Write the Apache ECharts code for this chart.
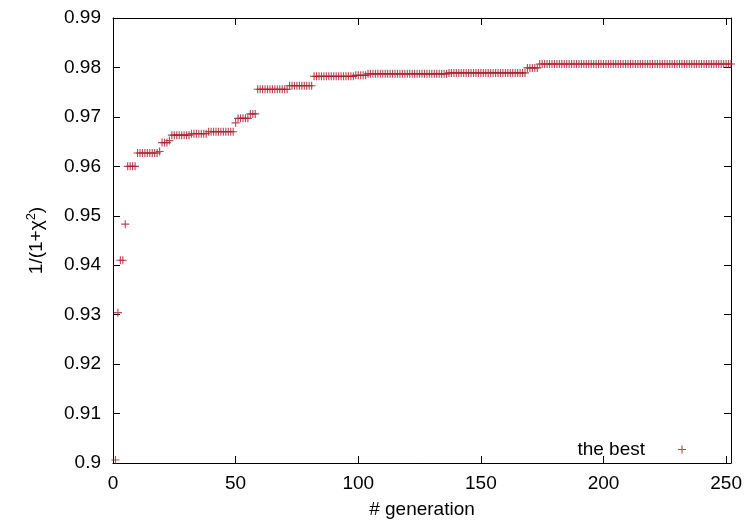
<!DOCTYPE html>
<html>
<head>
<meta charset="utf-8">
<script src="https://cdn.jsdelivr.net/npm/echarts@6/dist/echarts.min.js"></script>
<style>
    html, body { margin: 0; padding: 0; background: #fff; }
    #chart { width: 746px; height: 528px; }
</style>
</head>
<body>
<div id="chart"></div>
<script>
// best fitness per generation, read as plateaus: first generation of each level and its value
var runStart = [1, 2, 3, 5, 6, 10, 19, 20, 23, 24, 32, 39, 50, 51, 56, 59, 72, 82, 99, 104, 137, 169, 174];
var runValue = [0.9006, 0.9304, 0.9410, 0.9483, 0.9600, 0.9627, 0.9630, 0.9648, 0.9652, 0.9663, 0.9666, 0.9670,
    0.9688, 0.9697, 0.9706, 0.9756, 0.9763, 0.9782, 0.9784, 0.9787, 0.9789, 0.9799, 0.9807];
var lastGeneration = 252;

var xTicks = [0, 50, 100, 150, 200, 250];
var yTicks = [0.9, 0.91, 0.92, 0.93, 0.94, 0.95, 0.96, 0.97, 0.98, 0.99];

var points = [];
for (var i = 0; i < runStart.length; i++) {
    var end = (i + 1 < runStart.length) ? runStart[i + 1] - 1 : lastGeneration;
    for (var g = runStart[i]; g <= end; g++) {
        points.push([g, runValue[i]]);
    }
}

var plus = 'path://M3,0H4V3H7V4H4V7H3V4H0V3H3Z';
var red = '#aa1a28';
var font = 'Liberation Sans';

var xBase = {
    type: 'value',
    min: xTicks[0],
    max: lastGeneration,
    interval: 50,
    splitLine: { show: false },
    axisLine: { show: true, onZero: false, lineStyle: { color: '#000', width: 1 } },
    axisTick: { show: true, inside: true, length: 7, lineStyle: { color: '#000' } }
};
var yBase = {
    type: 'value',
    min: yTicks[0],
    max: yTicks[yTicks.length - 1],
    interval: 0.01,
    splitLine: { show: false },
    axisLine: { show: true, onZero: false, lineStyle: { color: '#000', width: 1 } },
    axisTick: { show: true, inside: true, length: 7, lineStyle: { color: '#000' } }
};

var myChart = echarts.init(document.getElementById('chart'));
myChart.setOption({
    animation: false,
    grid: { left: 113, right: 15, top: 18, bottom: 65, show: false },
    legend: {
        data: ['the best'],
        right: 60,
        top: 440,
        padding: 0,
        align: 'right',
        itemWidth: 64,
        itemHeight: 8,
        icon: plus,
        textStyle: { fontFamily: font, fontSize: 19, color: '#000' }
    },
    xAxis: [
        Object.assign({}, xBase, {
            position: 'bottom',
            name: '# generation',
            nameLocation: 'middle',
            nameGap: 37,
            nameTextStyle: { fontFamily: font, fontSize: 19, color: '#000' },
            axisLabel: {
                show: true, margin: 11, showMaxLabel: false,
                fontFamily: font, fontSize: 19, color: '#000'
            }
        }),
        Object.assign({}, xBase, { position: 'top', axisLabel: { show: false } })
    ],
    yAxis: [
        Object.assign({}, yBase, {
            position: 'left',
            name: '1/(1+χ{sup|2})',
            nameLocation: 'middle',
            nameRotate: 90,
            nameGap: 65,
            nameTextStyle: {
                fontFamily: font, fontSize: 19, color: '#000',
                rich: { sup: { fontFamily: font, fontSize: 13, color: '#000', padding: [0, 0, 10, 0] } }
            },
            axisLabel: {
                show: true, margin: 12,
                fontFamily: font, fontSize: 19, color: '#000',
                formatter: function (v) { return String(+v.toFixed(2)); }
            }
        }),
        Object.assign({}, yBase, { position: 'right', axisLabel: { show: false } })
    ],
    series: [{
        name: 'the best',
        type: 'scatter',
        xAxisIndex: 0,
        yAxisIndex: 0,
        symbol: plus,
        symbolSize: 8,
        clip: false,
        itemStyle: { color: red },
        data: points
    }]
});
</script>
</body>
</html>
